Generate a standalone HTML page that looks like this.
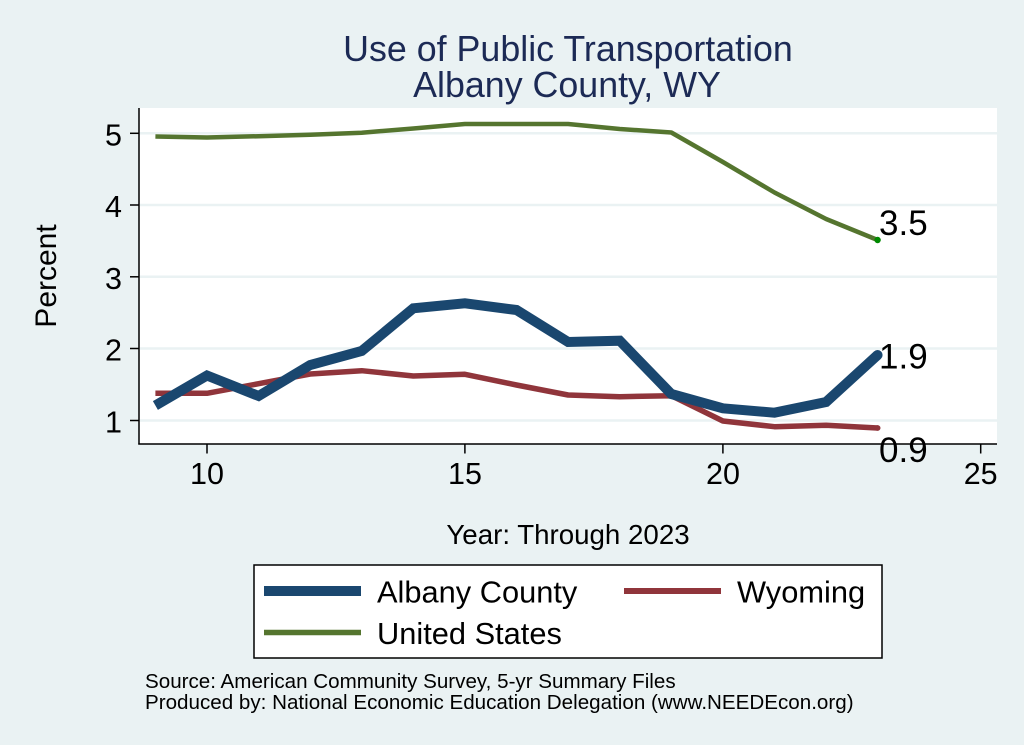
<!DOCTYPE html>
<html>
<head>
<meta charset="utf-8">
<style>
  html, body { margin:0; padding:0; background:#eaf2f3; }
  svg { display:block; }
  text { font-family: "Liberation Sans", Arial, sans-serif; }
</style>
</head>
<body>
<svg width="1024" height="745" viewBox="0 0 1024 745" xmlns="http://www.w3.org/2000/svg">
  <rect x="0" y="0" width="1024" height="745" fill="#eaf2f3"/>

  <!-- Title -->
  <text x="568" y="61" font-size="35.8" fill="#1c2a55" text-anchor="middle">Use of Public Transportation</text>
  <text x="567" y="97" font-size="35.8" fill="#1c2a55" text-anchor="middle">Albany County, WY</text>

  <!-- Plot region -->
  <rect x="139" y="108" width="858" height="336" fill="#ffffff"/>

  <!-- Gridlines -->
  <g stroke="#eaf2f3" stroke-width="2.5">
    <line x1="140" y1="133.3" x2="997" y2="133.3"/>
    <line x1="140" y1="205" x2="997" y2="205"/>
    <line x1="140" y1="276.8" x2="997" y2="276.8"/>
    <line x1="140" y1="348.5" x2="997" y2="348.5"/>
    <line x1="140" y1="420.5" x2="997" y2="420.5"/>
  </g>

  <!-- Axes -->
  <g stroke="#000" stroke-width="1.5" fill="none">
    <line x1="139" y1="108" x2="139" y2="444.5"/>
    <line x1="138.3" y1="444" x2="997" y2="444"/>
    <line x1="130" y1="133.3" x2="139" y2="133.3"/>
    <line x1="130" y1="205" x2="139" y2="205"/>
    <line x1="130" y1="276.8" x2="139" y2="276.8"/>
    <line x1="130" y1="348.5" x2="139" y2="348.5"/>
    <line x1="130" y1="420.5" x2="139" y2="420.5"/>
    <line x1="207" y1="444" x2="207" y2="453.5"/>
    <line x1="464.9" y1="444" x2="464.9" y2="453.5"/>
    <line x1="722.9" y1="444" x2="722.9" y2="453.5"/>
    <line x1="980.7" y1="444" x2="980.7" y2="453.5"/>
  </g>

  <!-- Y tick labels -->
  <g font-size="30.5" fill="#000" text-anchor="end">
    <text x="122" y="145.5">5</text>
    <text x="122" y="217">4</text>
    <text x="122" y="289">3</text>
    <text x="122" y="360.5">2</text>
    <text x="122" y="432.5">1</text>
  </g>

  <!-- X tick labels -->
  <g font-size="30.5" fill="#000" text-anchor="middle">
    <text x="207" y="484">10</text>
    <text x="465" y="484">15</text>
    <text x="723" y="484">20</text>
    <text x="980.7" y="484">25</text>
  </g>

  <!-- Axis titles -->
  <text transform="translate(56,276) rotate(-90)" font-size="30" fill="#000" text-anchor="middle">Percent</text>
  <text x="568" y="544" font-size="27.7" fill="#000" text-anchor="middle">Year: Through 2023</text>

  <!-- United States (green) -->
  <polyline fill="none" stroke="#55752f" stroke-width="4.5" stroke-linejoin="round"
    points="155.4,136.5 207,137.5 258.6,136.2 310.2,134.7 361.7,132.7 413.3,128.5 464.9,124 516.5,124 568.1,124 619.7,129 671.3,132.5 722.9,162 774.5,192.5 826.1,219 877.6,240"/>
  <circle cx="877.6" cy="240" r="3.2" fill="#008a00"/>

  <!-- Wyoming (maroon) -->
  <polyline fill="none" stroke="#90353b" stroke-width="5.5" stroke-linejoin="round"
    points="155.4,393.3 207,393.3 258.6,383.7 310.2,374 361.7,370.7 413.3,376 464.9,374.3 516.5,385 568.1,395 619.7,396.7 671.3,395.7 722.9,421 774.5,426.7 826.1,425.3 877.6,428"/>
  <circle cx="877.6" cy="428" r="2.9" fill="#90353b"/>

  <!-- Albany County (navy) -->
  <polyline fill="none" stroke="#1a476f" stroke-width="10" stroke-linejoin="miter" stroke-miterlimit="4"
    points="155.4,405.5 207,375.5 258.6,396 310.2,365 361.7,351 413.3,308.3 464.9,303.3 516.5,310 568.1,342 619.7,340.7 671.3,394 722.9,408.3 774.5,412.7 826.1,402 877.6,355"/>
  <circle cx="877.6" cy="355" r="5" fill="#1a476f"/>

  <!-- Marker labels -->
  <g font-size="35" fill="#000">
    <text x="879" y="235">3.5</text>
    <text x="879" y="368.5">1.9</text>
    <text x="879" y="462">0.9</text>
  </g>

  <!-- Legend -->
  <rect x="254" y="565" width="628" height="93" fill="#ffffff" stroke="#000" stroke-width="1.5"/>
  <line x1="264" y1="591" x2="361" y2="591" stroke="#1a476f" stroke-width="10"/>
  <line x1="624" y1="591" x2="721" y2="591" stroke="#90353b" stroke-width="6"/>
  <line x1="264" y1="632.5" x2="361" y2="632.5" stroke="#55752f" stroke-width="5.5"/>
  <g font-size="30.8" fill="#000">
    <text x="377" y="602.5">Albany County</text>
    <text x="737" y="602.5">Wyoming</text>
    <text x="377" y="644">United States</text>
  </g>

  <!-- Footer notes -->
  <g font-size="20.6" fill="#000">
    <text x="145" y="688">Source: American Community Survey, 5-yr Summary Files</text>
    <text x="145" y="709">Produced by: National Economic Education Delegation (www.NEEDEcon.org)</text>
  </g>
</svg>
</body>
</html>
